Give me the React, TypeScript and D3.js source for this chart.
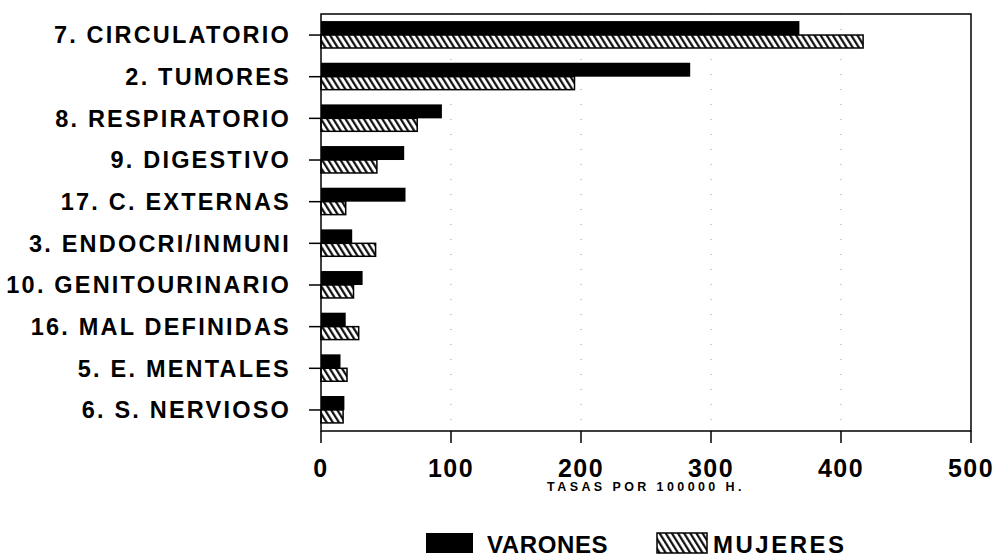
import React from "react";
import * as d3 from "d3";

const categories = [
  "7. CIRCULATORIO",
  "2. TUMORES",
  "8. RESPIRATORIO",
  "9. DIGESTIVO",
  "17. C. EXTERNAS",
  "3. ENDOCRI/INMUNI",
  "10. GENITOURINARIO",
  "16. MAL DEFINIDAS",
  "5. E. MENTALES",
  "6. S. NERVIOSO",
];
const varones = [368, 284, 93, 64, 65, 24, 32, 19, 15, 18];
const mujeres = [417, 195, 74, 43, 19, 42, 25, 29, 20, 17];
const xTicks = [0, 100, 200, 300, 400, 500];
const gridTicks = [100, 200, 300, 400];

const W = 998;
const H = 559;
const margin = { top: 14, right: 27, bottom: 128, left: 321 };
const font = "'Liberation Sans', Arial, Helvetica, sans-serif";

const App: React.FC = () => {
  const x = d3
    .scaleLinear()
    .domain([0, 500])
    .range([margin.left, W - margin.right]);

  const y = d3
    .scaleBand<string>()
    .domain(categories)
    .range([margin.top, H - margin.bottom])
    .paddingInner(0.33)
    .paddingOuter(0.17);

  const bw = y.bandwidth() / 2;
  const plotBottom = H - margin.bottom;

  return (
    <svg width={W} height={H} style={{ display: "block", position: "absolute", left: 0, top: 0 }}>
      <defs>
        <pattern
          id="hatch"
          patternUnits="userSpaceOnUse"
          width={5.2}
          height={10}
          patternTransform="rotate(-32)"
        >
          <rect width={5.2} height={10} fill="#fff" />
          <line x1={1.2} y1={0} x2={1.2} y2={10} stroke="#000" strokeWidth={2.1} />
        </pattern>
      </defs>
      <rect width={W} height={H} fill="#fff" />

      {/* faint dotted grid */}
      {gridTicks.map((t) => (
        <line
          key={"g" + t}
          x1={x(t)}
          x2={x(t)}
          y1={margin.top}
          y2={plotBottom}
          stroke="#999"
          strokeWidth={1}
          strokeDasharray="1,14"
        />
      ))}

      {/* bars */}
      {categories.map((c, i) => (
        <g key={c}>
          <rect
            x={x(0)}
            y={y(c)!}
            width={x(varones[i]) - x(0)}
            height={bw}
            fill="#000"
          />
          <rect
            x={x(0)}
            y={y(c)! + bw}
            width={x(mujeres[i]) - x(0)}
            height={bw - 1}
            fill="url(#hatch)"
            stroke="#000"
            strokeWidth={1.5}
          />
        </g>
      ))}

      {/* frame */}
      <rect
        x={margin.left}
        y={margin.top}
        width={x(500) - margin.left}
        height={plotBottom - margin.top}
        fill="none"
        stroke="#000"
        strokeWidth={1.5}
      />

      {/* y axis ticks and labels */}
      {categories.map((c) => {
        const cy = y(c)! + y.bandwidth() / 2;
        return (
          <g key={"l" + c}>
            <line x1={margin.left - 12} x2={margin.left} y1={cy} y2={cy} stroke="#000" strokeWidth={1.5} />
            <text
              x={291}
              y={cy}
              dy="0.36em"
              textAnchor="end"
              fontFamily={font}
              fontWeight="bold"
              fontSize={23.5}
              letterSpacing={2.2}
              fill="#000"
            >
              {c}
            </text>
          </g>
        );
      })}

      {/* x axis ticks and labels */}
      {xTicks.map((t) => (
        <g key={"x" + t}>
          <line x1={x(t)} x2={x(t)} y1={plotBottom} y2={plotBottom + 12} stroke="#000" strokeWidth={1.5} />
          <text
            x={x(t)}
            y={477}
            textAnchor="middle"
            fontFamily={font}
            fontWeight="bold"
            fontSize={25}
            letterSpacing={1.5}
            fill="#000"
          >
            {t}
          </text>
        </g>
      ))}
      <text
        x={(x(0) + x(500)) / 2}
        y={491}
        textAnchor="middle"
        fontFamily={font}
        fontWeight="bold"
        fontSize={12.5}
        letterSpacing={3.4}
        fill="#000"
      >
        TASAS POR 100000 H.
      </text>

      {/* legend */}
      <rect x={426} y={533} width={47} height={20} fill="#000" />
      <text x={487} y={553} fontFamily={font} fontWeight="bold" fontSize={24} letterSpacing={0.6} fill="#000">
        VARONES
      </text>
      <rect x={657} y={533} width={50} height={20} fill="url(#hatch)" stroke="#000" strokeWidth={1.5} />
      <text x={713} y={553} fontFamily={font} fontWeight="bold" fontSize={24} letterSpacing={2.5} fill="#000">
        MUJERES
      </text>
    </svg>
  );
};

export default App;
